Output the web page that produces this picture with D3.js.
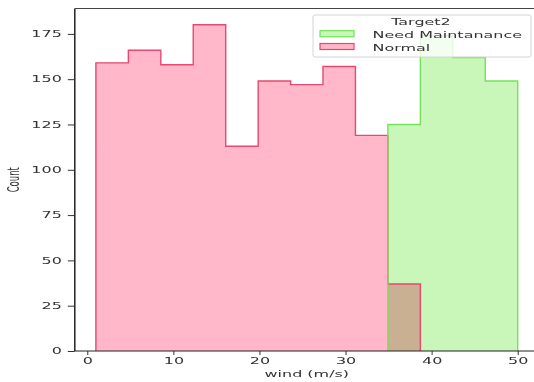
<!DOCTYPE html>
<html>
<head>
<meta charset="utf-8">
<script src="https://cdn.jsdelivr.net/npm/d3@7"></script>
<style>
  html, body { margin: 0; padding: 0; background: #fff; }
  svg { display: block; font-family: "DejaVu Sans", sans-serif; }
</style>
</head>
<body>
<div id="chart"></div>
<script>
// histogram bins (wind, m/s) and counts per class
const binEdges = [1, 4.77, 8.54, 12.31, 16.08, 19.85, 23.62, 27.38, 31.15, 34.92, 38.69, 42.46, 46.23, 50];
const normalCounts = [159, 166, 158, 180, 113, 149, 147, 157, 119, 37, 0, 0, 0];
const maintCounts = [0, 0, 0, 0, 0, 0, 0, 0, 0, 125, 174, 162, 149];
const xTicks = [0, 10, 20, 30, 40, 50];
const yTicks = [0, 25, 50, 75, 100, 125, 150, 175];
const legendTitle = 'Target2';
const legendLabels = ['Need Maintanance', 'Normal'];

const W = 534, H = 382;
const SX = 1.88;          // the picture is stretched horizontally
const FS = 8.5;

const colors = {
  normal: { fill: '#ffb7c9', stroke: '#e8486f' },
  maint: { fill: '#c9f6b9', stroke: '#76e25c' }
};

const svg = d3.select('#chart').append('svg')
  .attr('width', W)
  .attr('height', H);

const x = d3.scaleLinear().domain([-1.45, 52.45]).range([74.8, 538.8]);
const y = d3.scaleLinear().domain([0, 189]).range([351, 8.5]);

// step points for one series, zero bins at the ends trimmed
function stepPoints(counts) {
  let first = counts.findIndex(c => c > 0);
  let last = counts.length - 1;
  while (last > 0 && counts[last] === 0) last--;
  const pts = [{ x: binEdges[first], y: 0 }];
  for (let i = first; i <= last; i++) pts.push({ x: binEdges[i], y: counts[i] });
  pts.push({ x: binEdges[last + 1], y: counts[last] });
  pts.push({ x: binEdges[last + 1], y: 0 });
  return pts;
}

const area = d3.area()
  .curve(d3.curveStepAfter)
  .x(d => x(d.x))
  .y0(y(0))
  .y1(d => y(d.y));

const line = d3.line()
  .curve(d3.curveStepAfter)
  .x(d => x(d.x))
  .y(d => y(d.y));

const series = [
  { key: 'normal', pts: stepPoints(normalCounts) },
  { key: 'maint', pts: stepPoints(maintCounts) }
];

const plot = svg.append('g').attr('class', 'plot');

plot.selectAll('path.fill')
  .data(series)
  .enter().append('path')
  .attr('class', 'fill')
  .attr('d', d => area(d.pts))
  .attr('fill', d => colors[d.key].fill)
  .style('mix-blend-mode', 'multiply');

plot.selectAll('path.edge')
  .data(series)
  .enter().append('path')
  .attr('class', 'edge')
  .attr('d', d => line(d.pts))
  .attr('fill', 'none')
  .attr('stroke', d => colors[d.key].stroke)
  .attr('stroke-width', 1.4);

// axes
const xAxis = svg.append('g')
  .attr('transform', `translate(0,${y(0)})`)
  .call(d3.axisBottom(x).tickValues(xTicks).tickSize(4).tickSizeOuter(0));

const yAxis = svg.append('g')
  .attr('transform', `translate(${x.range()[0]},0)`)
  .call(d3.axisLeft(y).tickValues(yTicks).tickSize(7).tickSizeOuter(0));

[xAxis, yAxis].forEach(ax => {
  ax.select('.domain').remove();
  ax.selectAll('.tick line').attr('stroke', '#333').attr('stroke-width', 1);
  ax.selectAll('.tick text')
    .attr('fill', '#333')
    .attr('font-size', FS)
    .attr('font-family', '"DejaVu Sans", sans-serif');
});

xAxis.selectAll('.tick text').attr('transform', `scale(${SX},1)`).attr('x', 0);
yAxis.selectAll('.tick text').attr('transform', `scale(${SX},1)`).attr('x', -6.9);

// spines
const x0 = x.range()[0];
svg.append('line').attr('x1', x0).attr('x2', x0).attr('y1', y.range()[1]).attr('y2', y(0))
  .attr('stroke', '#222').attr('stroke-width', 1.5);
svg.append('line').attr('x1', x0).attr('x2', W).attr('y1', y(0)).attr('y2', y(0))
  .attr('stroke', '#222').attr('stroke-width', 1);
svg.append('line').attr('x1', x0).attr('x2', W).attr('y1', y.range()[1]).attr('y2', y.range()[1])
  .attr('stroke', '#444').attr('stroke-width', 1);

// labels
function label(px, py, txt, anchor, rot) {
  return svg.append('text')
    .attr('transform', `translate(${px},${py}) scale(${SX},1)` + (rot ? ` rotate(${rot})` : ''))
    .attr('text-anchor', anchor || 'start')
    .attr('font-size', FS)
    .attr('fill', '#333')
    .text(txt);
}

label((x.range()[0] + x.range()[1]) / 2, 377, 'wind (m/s)', 'middle');
label(13, (y.range()[0] + y.range()[1]) / 2, 'Count', 'middle', -90).attr('dy', '0.36em');

// legend
const legend = svg.append('g').attr('class', 'legend');
legend.append('rect')
  .attr('x', 313).attr('y', 15).attr('width', 218).attr('height', 42)
  .attr('rx', 2)
  .attr('fill', '#fff').attr('fill-opacity', 0.8)
  .attr('stroke', '#d4d4d4');

label(421, 25, legendTitle, 'middle');

const legendKeys = ['maint', 'normal'];
legendKeys.forEach((k, i) => {
  const ly = 30.7 + i * 12.8;
  legend.append('rect')
    .attr('x', 320).attr('y', ly).attr('width', 34).attr('height', 6)
    .attr('fill', colors[k].fill)
    .attr('stroke', colors[k].stroke)
    .attr('stroke-width', 1.2);
  label(372.5, ly + 7.3, legendLabels[i], 'start');
});
</script>
</body>
</html>
